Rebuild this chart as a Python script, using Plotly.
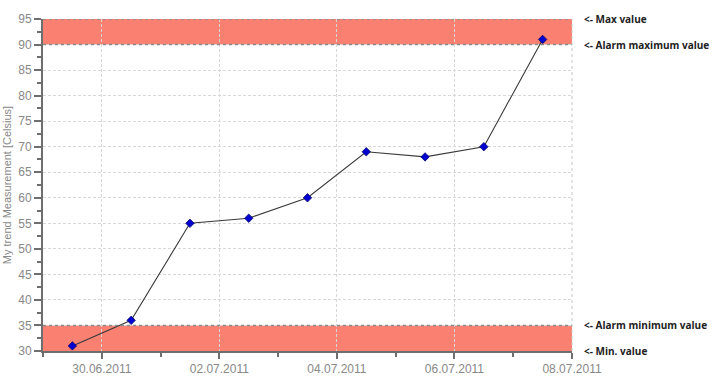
import plotly.graph_objects as go

dates = ["2011-06-29 12:00", "2011-06-30 12:00", "2011-07-01 12:00", "2011-07-02 12:00",
         "2011-07-03 12:00", "2011-07-04 12:00", "2011-07-05 12:00", "2011-07-06 12:00",
         "2011-07-07 12:00"]
values = [31, 36, 55, 56, 60, 69, 68, 70, 91]

min_value = 30
alarm_min = 35
alarm_max = 90
max_value = 95
limit_labels = ["<- Max value", "<- Alarm maximum value", "<- Alarm minimum value", "<- Min. value"]
limit_values = [max_value, alarm_max, alarm_min, min_value]

x_range = ["2011-06-29", "2011-07-08"]

axis_col = "#6e6e6e"
label_col = "#888888"
grid_col = "#d8d8d8"
band_col = "#FA8072"

fig = go.Figure()
fig.add_trace(go.Scatter(
    x=dates, y=values, mode="lines+markers",
    line=dict(color="#3a3a3a", width=1.1),
    marker=dict(symbol="diamond", size=6.5, color="#0000d0", line=dict(color="#000060", width=0.7)),
    showlegend=False,
))

shapes = []
for lo, hi in [(min_value, alarm_min), (alarm_max, max_value)]:
    shapes.append(dict(type="rect", xref="paper", yref="y", x0=0, x1=1, y0=lo, y1=hi,
                       fillcolor=band_col, line=dict(width=0), layer="below"))
for yv in [alarm_min, alarm_max, max_value]:
    shapes.append(dict(type="line", xref="paper", yref="y", x0=0, x1=1, y0=yv, y1=yv,
                       line=dict(color="#8a8a8a", width=1.5, dash="dot"), layer="above"))
shapes.append(dict(type="line", xref="paper", yref="paper", x0=1, x1=1, y0=0, y1=1,
                   line=dict(color="#c8c8c8", width=1, dash="dot"), layer="above"))

annotations = []
for txt, yv in zip(limit_labels, limit_values):
    annotations.append(dict(xref="paper", yref="y", x=1.0, y=yv, text=txt, showarrow=False,
                            xanchor="left", yanchor="middle", xshift=10,
                            font=dict(family="Open Sans", size=10, color="#222222", weight="bold")))

fig.update_layout(
    width=720, height=376,
    margin=dict(l=43, r=148, t=19, b=25, autoexpand=False),
    paper_bgcolor="white", plot_bgcolor="white",
    shapes=shapes, annotations=annotations,
    font=dict(family="Liberation Sans, Arial", size=12, color=label_col),
    xaxis=dict(
        type="date", range=x_range, tick0="2011-06-30", dtick=2 * 86400000,
        tickformat="%d.%m.%Y", showline=True, linecolor=axis_col, linewidth=2,
        ticks="outside", ticklen=6, tickwidth=2, tickcolor=axis_col,
        showgrid=True, gridcolor=grid_col, griddash="3px,2px", gridwidth=1,
        zeroline=False, tickfont=dict(size=12, color=label_col), automargin=False,
        minor=dict(tick0="2011-06-29", dtick=86400000, ticks="outside", ticklen=4,
                   tickwidth=2, tickcolor=axis_col, showgrid=False),
    ),
    yaxis=dict(
        range=[min_value, max_value], tick0=30, dtick=5,
        showline=True, linecolor=axis_col, linewidth=2,
        ticks="outside", ticklen=7, tickwidth=2, tickcolor=axis_col,
        showgrid=True, gridcolor=grid_col, griddash="3px,2px", gridwidth=1,
        zeroline=False, tickfont=dict(size=12, color=label_col), automargin=False,
        title=dict(text="My trend Measurement [Celsius]", font=dict(size=11, color=label_col), standoff=4),
        minor=dict(tick0=0, dtick=2.5, ticks="outside", ticklen=4, tickwidth=2, tickcolor=axis_col, showgrid=False),
    ),
)

fig.write_html("out.html")
